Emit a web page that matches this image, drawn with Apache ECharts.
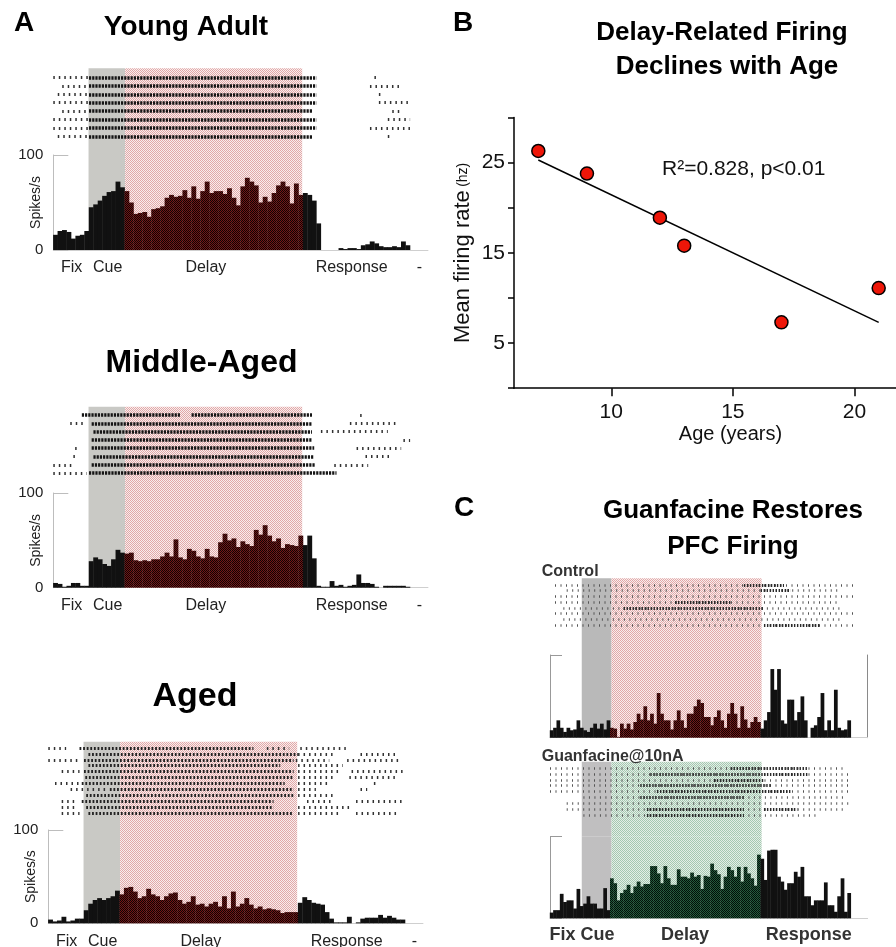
<!DOCTYPE html>
<html>
<head>
<meta charset="utf-8">
<title>Delay-related firing declines with age</title>
<script src="https://cdn.jsdelivr.net/npm/echarts@6/dist/echarts.min.js"></script>
<style>
  body { margin: 0; background: #fff; }
  #chart { width: 896px; height: 947px; }
</style>
</head>
<body>
<div id="chart"></div>
<script>
// ---- data ----
// histogram bins (spikes/s), 80 bins per panel in A, 90 bins per panel in C
var youngRates = [16,20,21,19,12,15,16,20,45,48, 52,57,61,62,72,66,62,50,38,39,
                  40,35,43,44,46,55,58,56,57,63, 55,67,54,62,72,60,62,62,59,65,
                  55,47,67,76,72,68,50,56,51,60, 68,72,67,49,70,58,60,58,52,28,
                  0,0,0,0,2,1,2,2,1,5, 6,9,7,4,3,3,4,3,9,5];
var middleRates = [5,4,1,2,5,5,2,2,28,32, 30,25,23,30,40,37,36,37,29,28,
                   29,28,30,30,33,37,33,51,32,30, 41,39,33,31,41,33,32,48,57,50,
                   52,43,49,46,44,61,56,66,55,49, 52,42,46,45,44,55,45,55,31,2,
                   1,1,7,2,3,1,2,3,14,5, 5,4,1,0,2,2,2,2,2,1];
var agedRates = [4,2,3,7,2,3,5,5,14,21, 25,27,25,27,29,35,31,38,39,34,
                 27,29,37,31,29,25,29,32,33,25, 21,23,29,20,21,18,21,23,18,29,
                 16,34,18,21,27,20,16,18,15,16, 15,14,11,12,12,12,22,28,25,22,
                 21,20,12,5,1,1,1,7,0,1, 5,6,6,6,9,6,8,6,4,4];
var controlRates = [9,12,21,12,7,12,9,10,21,12, 9,7,12,17,11,17,10,21,12,11,
                    1,17,11,17,10,19,29,22,38,21, 29,17,54,29,21,21,10,21,33,21,
                    12,29,29,38,46,42,25,25,15,25, 33,21,12,29,42,29,12,38,22,12,
                    19,25,19,11,21,31,83,58,83,21, 17,46,46,21,31,50,21,0,12,15,
                    25,54,9,21,9,58,12,9,10,21];
var guanfacineRates = [7,10,10,30,20,22,22,12,36,15, 18,27,18,18,12,12,37,10,49,43,
                       22,31,35,41,31,39,45,39,42,42, 64,64,55,43,64,49,41,41,60,51,
                       51,49,56,51,53,36,52,51,67,59, 54,36,51,63,59,51,63,45,63,55,
                       49,40,78,73,47,83,84,84,51,45, 35,43,43,57,51,63,27,27,16,22,
                       22,22,44,16,16,8,27,49,8,31];

// raster rows: [start bin, end bin, density 0 sparse / 1 dense / 2 medium]
var youngRaster = [
  [[0,8,0],[8,59,1],[72,72.6,0]],
  [[2,8,0],[8,59,1],[71,78,0]],
  [[1,8,0],[8,59,1],[73,73.6,0]],
  [[0,8,0],[8,59,1],[73,80,0]],
  [[2,8,0],[8,58,1],[76,78,0]],
  [[0,8,0],[8,59,1],[75,80,0]],
  [[0,8,0],[8,59,1],[71,80,0]],
  [[1,8,0],[8,58,1],[75,75.6,0]]
];
var middleRaster = [
  [[6.4,28.4,1],[31,58,1],[68.8,69.4,0]],
  [[3.8,7.5,0],[8.6,58,1],[66.5,77,0]],
  [[9,58,1],[60,75,0]],
  [[8.6,58,1],[78.5,80,0]],
  [[4.9,5.5,0],[8.6,58.5,1],[68,78,0]],
  [[4.5,5.6,0],[9,58.5,1],[70,75.5,0]],
  [[0,4.5,0],[8.6,58.7,1],[63,70.6,0]],
  [[0,7.5,0],[8,63.5,1]]
];
var agedRaster = [
  [[0,4,0],[7,46,2],[49,54,0],[56.5,67,0]],
  [[9,56,2],[56,64,0],[70,78.5,0]],
  [[0,7,0],[8,55,2],[55.5,63,0],[67,78.5,0]],
  [[9,52,2],[56,66,0]],
  [[3,7,0],[8,55,2],[56,65,0],[68,80,0]],
  [[8.3,55,2],[56,64,0],[67.5,78.5,0]],
  [[1.5,7,0],[7.5,53,2],[56,63,0],[73,73.6,0]],
  [[5,13,0],[13.8,55,2],[56,60,0],[70,71.5,0]],
  [[8.5,55,2],[56,64,0]],
  [[3,6,0],[7.5,50.5,2],[58,64,0],[69,80,0]],
  [[3,6.5,0],[8.5,50.5,2],[56,68,0]],
  [[3,7,0],[9,55,2],[56,65,0],[69,78,0]]
];
var controlRaster = [
  [[1.5,91,0],[58,70,2]],
  [[5,86,0],[63,72,2]],
  [[1.5,91,0]],
  [[1.5,87,0],[37.4,54,2]],
  [[4,87,0],[22,64,2]],
  [[1.5,91,0]],
  [[4,87,0]],
  [[1.5,91,0],[64,81,2]]
];
var guanfacineRaster = [
  [[0,88,0],[54,77,2]],
  [[0,90,0],[30,64,2],[64,77,2]],
  [[0,90,0],[49,64,2]],
  [[0,90,0],[27,66,2]],
  [[0,90,0],[32,72,2]],
  [[10,88,0],[27,58,2]],
  [[5,90,0]],
  [[5,88,0],[29,58,2],[64,74,2]],
  [[10,80,0],[29,58,2]]
];

// task epochs in bins: cue start, delay start, delay end
var aEpochs = [7.9, 16.1, 55.8];
var cEpochs = [9.5, 18.4, 63.3];

// x tick labels (bin position, text)
var aLabelBins = [4.1, 12.2, 34.2, 66.9, 82.1];
var aLabelTexts = ['Fix', 'Cue', 'Delay', 'Response', '-'];
var cLabelBins = [9.6, 40.4, 77.4];
var cLabelTexts = ['Fix Cue', 'Delay', 'Response'];

// panel B
var ages = [7, 9, 12, 13, 17, 21];
var meanRates = [26.3, 23.8, 18.9, 15.8, 7.3, 11.1];
var fitAges = [7, 21];
var fitRates = [25.3, 7.3];
var ageTicks = [10, 15, 20];
var rateLabels = [5, 15, 25];

// ---- styles ----
var FONT = '"Liberation Sans", Arial, sans-serif';

function checker(a, b) {
  var c = document.createElement('canvas');
  c.width = 2; c.height = 2;
  var ctx = c.getContext('2d');
  ctx.fillStyle = b; ctx.fillRect(0, 0, 2, 2);
  ctx.fillStyle = a; ctx.fillRect(0, 0, 1, 1); ctx.fillRect(1, 1, 1, 1);
  return { image: c, repeat: 'repeat' };
}
var pinkFill = checker('#e2a8a8', '#f8eeee');
var greenFill = checker('#a4c8b0', '#e4eee7');
var maroonBar = checker('#120202', '#701818');
var greenBar = checker('#020f08', '#235a3c');

var rasterStyleA = {
  0: { width: 3, type: [1.5, 4], color: '#333', opacity: 1 },
  1: { width: 3.5, type: [2.2, 1], color: '#151515', opacity: 1 },
  2: { width: 3.2, type: [1.8, 1.8], color: '#222', opacity: 1 }
};
var rasterStyleC = {
  0: { width: 2.6, type: [1, 4.5], color: '#555', opacity: 1 },
  1: { width: 2.6, type: [1.2, 1.2], color: '#333', opacity: 1 },
  2: { width: 2.8, type: [1.4, 1.6], color: '#2a2a2a', opacity: 1 }
};

var panels = [
  { rates: youngRates, raster: youngRaster, epochs: aEpochs, left: 53.3, binPx: 4.46, axisMax: 84,
    rasterTop: 68.3, rowTop: 77.5, rowStep: 8.4, histTop: 155, histBottom: 250,
    cue: '#c9c9c5', delay: pinkFill, barDelay: maroonBar, rs: rasterStyleA, kind: 'A' },
  { rates: middleRates, raster: middleRaster, epochs: aEpochs, left: 53.3, binPx: 4.46, axisMax: 84,
    rasterTop: 406.7, rowTop: 415, rowStep: 8.3, histTop: 493, histBottom: 587.7,
    cue: '#c9c9c5', delay: pinkFill, barDelay: maroonBar, rs: rasterStyleA, kind: 'A' },
  { rates: agedRates, raster: agedRaster, epochs: aEpochs, left: 48.3, binPx: 4.46, axisMax: 84,
    rasterTop: 741.7, rowTop: 748, rowStep: 5.9, histTop: 830, histBottom: 923.3,
    cue: '#c9c9c5', delay: pinkFill, barDelay: maroonBar, rs: rasterStyleA, kind: 'A' },
  { rates: controlRates, raster: controlRaster, epochs: cEpochs, left: 550, binPx: 3.343, axisMax: 95,
    rasterTop: 578.3, rowTop: 585, rowStep: 5.7, histTop: 655, histBottom: 737.7,
    cue: '#b9b9b9', delay: pinkFill, barDelay: maroonBar, rs: rasterStyleC, kind: 'Cctl' },
  { rates: guanfacineRates, raster: guanfacineRaster, epochs: cEpochs, left: 550, binPx: 3.343, axisMax: 95,
    rasterTop: 761.7, rowTop: 768, rowStep: 5.9, histTop: 836.7, histBottom: 918.3,
    cue: '#c0bfc0', delay: greenFill, barDelay: greenBar, rs: rasterStyleC, kind: 'Cgfc' }
];

var grid = [], xAxis = [], yAxis = [], series = [];

function shading(p) {
  return {
    silent: true,
    data: [
      [{ xAxis: p.epochs[0], itemStyle: { color: p.cue } }, { xAxis: p.epochs[1] }],
      [{ xAxis: p.epochs[1], itemStyle: { color: p.delay } }, { xAxis: p.epochs[2] }]
    ]
  };
}

panels.forEach(function (p) {
  var w = p.axisMax * p.binPx;
  // raster grid
  var g = grid.length;
  grid.push({ left: p.left, top: p.rasterTop, width: w, height: p.histTop - p.rasterTop, outerBoundsMode: 'none' });
  var xi = xAxis.length, yi = yAxis.length;
  xAxis.push({ gridIndex: g, type: 'value', min: 0, max: p.axisMax, show: false });
  var yMin = -(p.rowTop - p.rasterTop) / p.rowStep;
  yAxis.push({ gridIndex: g, type: 'value', inverse: true, min: yMin,
               max: yMin + (p.histTop - p.rasterTop) / p.rowStep, show: false });
  series.push({ type: 'line', xAxisIndex: xi, yAxisIndex: yi, data: [[0, -50]], symbol: 'none',
                lineStyle: { opacity: 0 }, silent: true, z: 1, markArea: shading(p) });
  [0, 2, 1].forEach(function (k) {
    var segs = [];
    p.raster.forEach(function (row, r) {
      row.forEach(function (s) {
        if (s[2] === k) segs.push({ coords: [[s[0], r], [s[1], r]] });
      });
    });
    if (segs.length) {
      series.push({ type: 'lines', coordinateSystem: 'cartesian2d', xAxisIndex: xi, yAxisIndex: yi,
                    data: segs, silent: true, z: 3, lineStyle: p.rs[k] });
    }
  });

  // histogram grid
  g = grid.length;
  grid.push({ left: p.left, top: p.histTop, width: w, height: p.histBottom - p.histTop, outerBoundsMode: 'none' });
  xi = xAxis.length; yi = yAxis.length;
  var isA = p.kind === 'A';
  var showX = p.kind !== 'Cctl';
  xAxis.push({
    gridIndex: g, type: 'value', min: 0, max: p.axisMax,
    axisLine: { show: true, onZero: false, lineStyle: { color: '#cfcfcf', width: 1 } },
    axisTick: { show: false }, splitLine: { show: false },
    axisLabel: {
      show: showX,
      customValues: isA ? aLabelBins : cLabelBins,
      formatter: function (v) {
        var bins = isA ? aLabelBins : cLabelBins, txt = isA ? aLabelTexts : cLabelTexts;
        var i = bins.indexOf(v);
        return i < 0 ? '' : txt[i];
      },
      margin: isA ? 10 : 8,
      fontSize: isA ? 16 : 18, fontWeight: isA ? 'normal' : 'bold',
      color: isA ? '#222' : '#333', fontFamily: FONT
    }
  });
  yAxis.push({
    gridIndex: g, type: 'value', min: 0, max: 100, interval: 100,
    axisLine: { show: true, lineStyle: { color: isA ? '#bdbdbd' : '#999', width: 1 } },
    axisTick: { show: true, inside: true, length: isA ? 15 : 12, lineStyle: { color: isA ? '#bdbdbd' : '#999' } },
    splitLine: { show: false },
    axisLabel: { show: isA, fontSize: 15, color: '#222', margin: 10, fontFamily: FONT },
    name: isA ? 'Spikes/s' : '', nameLocation: 'middle', nameRotate: 90, nameGap: 10,
    nameMoveOverlap: false,
    nameTextStyle: { fontSize: 14, color: '#222', fontFamily: FONT }
  });
  if (p.kind === 'Cctl') {
    yAxis.push({ gridIndex: g, type: 'value', position: 'right', min: 0, max: 100,
                 axisLine: { show: true, lineStyle: { color: '#8a8a8a' } },
                 axisTick: { show: false }, axisLabel: { show: false }, splitLine: { show: false } });
  }
  series.push({ type: 'line', xAxisIndex: xi, yAxisIndex: yi, data: [[0, -50]], symbol: 'none',
                lineStyle: { opacity: 0 }, silent: true, z: 1, markArea: shading(p) });
  series.push({
    type: 'bar', xAxisIndex: xi, yAxisIndex: yi, silent: true, z: 3,
    barWidth: p.binPx + 0.4,
    data: p.rates.map(function (v, i) { return [i + 0.5, v]; }),
    itemStyle: {
      color: function (params) {
        var x = params.data[0];
        return (x > p.epochs[1] && x < p.epochs[2]) ? p.barDelay : '#111';
      }
    }
  });
});

// panel B scatter
var gB = grid.length;
grid.push({ left: 514, top: 117.6, width: 389, height: 270.6, outerBoundsMode: 'none' });
var xB = xAxis.length, yB = yAxis.length;
xAxis.push({
  gridIndex: gB, type: 'value', min: 6, max: 22,
  axisLine: { show: true, onZero: false, lineStyle: { color: '#000', width: 1.5 } },
  axisTick: { show: true, customValues: ageTicks, length: 8, lineStyle: { color: '#000', width: 1.5 } },
  axisLabel: { customValues: ageTicks, fontSize: 21, color: '#111', margin: 14, fontFamily: FONT },
  splitLine: { show: false },
  name: 'Age (years)', nameLocation: 'middle', nameGap: 36, nameMoveOverlap: false,
  nameTextStyle: { fontSize: 20, color: '#111', fontFamily: FONT, padding: [0, 0, 0, 44] }
});
yAxis.push({
  gridIndex: gB, type: 'value', min: 0, max: 30, interval: 5,
  axisLine: { show: true, lineStyle: { color: '#000', width: 1.5 } },
  axisTick: { show: true, length: 6, lineStyle: { color: '#000', width: 1.5 } },
  axisLabel: {
    fontSize: 21, color: '#111', margin: 9, fontFamily: FONT,
    formatter: function (v) { return rateLabels.indexOf(v) >= 0 ? String(v) : ''; }
  },
  splitLine: { show: false },
  name: '{big|Mean firing rate} {small|(hz)}', nameLocation: 'middle', nameRotate: 90, nameGap: 40,
  nameMoveOverlap: false,
  nameTextStyle: {
    fontFamily: FONT, color: '#111',
    rich: { big: { fontSize: 22, fontFamily: FONT, color: '#111' },
            small: { fontSize: 14, fontFamily: FONT, color: '#111' } }
  }
});
series.push({
  type: 'line', xAxisIndex: xB, yAxisIndex: yB, silent: true, z: 3,
  data: fitAges.map(function (a, i) { return [a, fitRates[i]]; }),
  symbol: 'none', lineStyle: { color: '#000', width: 1.5 }
});
series.push({
  type: 'scatter', xAxisIndex: xB, yAxisIndex: yB, silent: true, z: 4,
  data: ages.map(function (a, i) { return [a, meanRates[i]]; }),
  symbolSize: 13,
  itemStyle: { color: '#ee1608', borderColor: '#000', borderWidth: 1.5, opacity: 1 }
});

function txt(x, y, text, size, weight, color, align) {
  return {
    type: 'text', x: x, y: y, silent: true, z: 10,
    style: {
      text: text, fill: color || '#000', fontSize: size, fontWeight: weight || 'normal',
      fontFamily: FONT, align: align || 'center', textAlign: align || 'center',
      verticalAlign: 'middle', textVerticalAlign: 'middle'
    }
  };
}

var graphic = [
  txt(24, 23, 'A', 28, 'bold'),
  txt(186, 27, 'Young Adult', 28, 'bold'),
  txt(201.5, 363, 'Middle-Aged', 32, 'bold'),
  txt(195, 697, 'Aged', 34, 'bold'),
  txt(463, 23, 'B', 28, 'bold'),
  txt(722, 33, 'Delay-Related Firing', 26, 'bold'),
  txt(727, 67, 'Declines with Age', 26, 'bold'),
  txt(662, 169, 'R\u00b2=0.828, p<0.01', 21, 'normal', '#111', 'left'),
  txt(464, 508, 'C', 28, 'bold'),
  txt(733, 511, 'Guanfacine Restores', 26, 'bold'),
  txt(733, 547, 'PFC Firing', 26, 'bold'),
  txt(541.7, 572, 'Control', 16, 'bold', '#333', 'left'),
  txt(541.7, 757, 'Guanfacine@10nA', 16, 'bold', '#333', 'left')
];

var chart = echarts.init(document.getElementById('chart'));
chart.setOption({
  animation: false,
  backgroundColor: '#fff',
  textStyle: { fontFamily: FONT },
  grid: grid,
  xAxis: xAxis,
  yAxis: yAxis,
  series: series,
  graphic: graphic
});
</script>
</body>
</html>
